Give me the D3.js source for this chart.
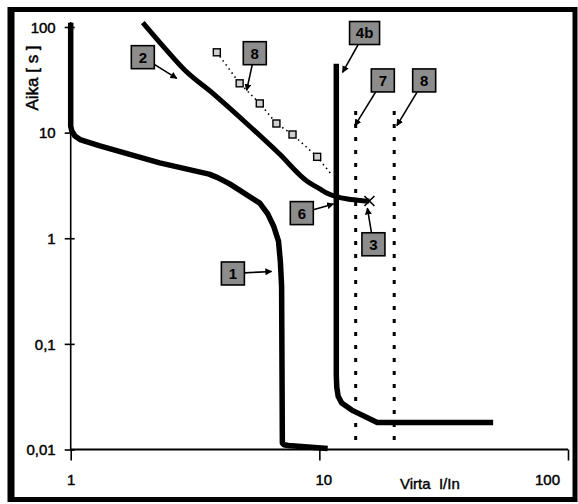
<!DOCTYPE html>
<html><head><meta charset="utf-8">
<script src="https://cdn.jsdelivr.net/npm/d3@7"></script>
<style>
html,body{margin:0;padding:0;background:#fff;}
text{font-family:"Liberation Sans",Arial,sans-serif;}
</style></head>
<body><svg id="c" width="578" height="504"></svg>
<script>
// ---- data ----
const xTicks = [1, 10, 100];
const yTicks = [0.01, 0.1, 1, 10, 100];
const yTickLabels = ["0,01", "0,1", "1", "10", "100"];
const xTitle = "Virta  I/In";
const yTitle = "Aika [ s ]";

// curve 1
const c1x = [1, 1, 1.01, 1.04, 1.09, 1.31, 2.28, 3.6, 3.9, 4.36, 5.76, 6.2, 6.55, 6.85, 6.97, 7.05, 7.1, 7.2, 7.5, 10.8];
const c1y = [110, 11.5, 10.4, 9.3, 8.6, 7.5, 5.17, 4.05, 3.75, 3.27, 2.15, 1.7, 1.3, 0.94, 0.6, 0.35, 0.0115, 0.0111, 0.0109, 0.0102];
// curve 2
const c2x = [1.95, 2.39, 2.88, 3.73, 5.1, 6.9, 8.9, 10.0, 10.7, 11.7, 13.0, 14.9, 15.9];
const c2y = [110, 63, 38.9, 23.5, 12.2, 6.3, 3.49, 2.95, 2.68, 2.48, 2.35, 2.27, 2.25];
// curve 4b
const c4x = [11.7, 11.7, 11.75, 11.9, 12.3, 13.5, 17.1, 50];
const c4y = [45, 0.05, 0.039, 0.032, 0.0275, 0.0236, 0.018, 0.018];
// dotted verticals 7 and 8
const vLinesX = [14, 20];
const vLinesTop = 16;
// square-marker series
const sqx = [3.87, 4.78, 5.76, 6.72, 7.8, 9.8];
const sqy = [57.6, 29.3, 18.9, 12.2, 9.6, 5.9];
const sqEnd = [11.3, 3.9];
// cross marker (3)
const crossPt = [15.9, 2.25];
// annotation labels: text, box centre (x,y), arrow head (x,y)
const annText = ["1", "2", "8", "4b", "7", "8", "6", "3"];
const annBoxX = [4.49, 1.95, 5.5, 15.2, 18.0, 26.4, 8.5, 16.5];
const annBoxY = [0.464, 51.8, 56.5, 87.7, 31.2, 31.2, 1.73, 0.877];
const annHeadX = [6.43, 2.67, 5.1, 12.4, 13.9, 20.5, 11.4, 15.6];
const annHeadY = [0.485, 32.6, 25.1, 37.2, 11.65, 11.65, 2.11, 1.93];

// ---- drawing ----
const svg = d3.select("#c");
const x = d3.scaleLog().domain([1, 100]).range([70.7, 568]);
const y = d3.scaleLog().domain([0.01, 100]).range([449.5, 27]);

// frame
svg.append("rect").attr("x", 11.5).attr("y", 9.5).attr("width", 563.5).attr("height", 490)
  .attr("fill", "none").attr("stroke", "#000").attr("stroke-width", 5);
svg.append("line").attr("x1", 11).attr("x2", 11).attr("y1", 7).attr("y2", 502)
  .attr("stroke", "#000").attr("stroke-width", 7);

// axes
const gy = svg.append("g").attr("transform", `translate(${x(1)},0)`)
  .call(d3.axisLeft(y).tickValues(yTicks).tickFormat((d, i) => yTickLabels[i]).tickSize(6).tickPadding(9));
gy.select(".domain").attr("d", `M0,${y(0.01)}V22`).attr("stroke-width", 1.6);
gy.selectAll(".tick line").attr("x1", 4).attr("stroke-width", 1.6);
gy.selectAll(".tick text").attr("font-size", 15).attr("fill", "#000").attr("dy", "0.35em")
  .attr("stroke", "#000").attr("stroke-width", 0.45);

const gx = svg.append("g").attr("transform", `translate(0,${y(0.01)})`)
  .call(d3.axisBottom(x).tickValues(xTicks).tickFormat(d3.format("d")).tickSize(11).tickPadding(14));
gx.select(".domain").attr("d", `M${x(1)},0H${x(100)}`).attr("stroke-width", 1.8);
gx.selectAll(".tick line").attr("stroke-width", 1.6);
gx.selectAll(".tick text").attr("font-size", 15).attr("fill", "#000")
  .attr("stroke", "#000").attr("stroke-width", 0.45)
  .attr("dx", d => d === 100 ? -21 : d === 10 ? 4 : 0);

svg.append("text").attr("x", 400).attr("y", 489).attr("font-size", 15)
  .attr("stroke", "#000").attr("stroke-width", 0.4)
  .style("white-space", "pre").text(xTitle);
svg.append("text").attr("transform", "translate(38,78) rotate(-90)").attr("text-anchor", "middle")
  .attr("font-size", 17).attr("stroke", "#000").attr("stroke-width", 0.5).text(yTitle);

// curves
const line = d3.line().x(d => x(d[0])).y(d => y(d[1]));
const smooth = d3.line().x(d => x(d[0])).y(d => y(d[1])).curve(d3.curveMonotoneX);
const zip = (a, b) => a.map((v, i) => [v, b[i]]);
[[c1x, c1y, 5.5, line], [c2x, c2y, 5, smooth], [c4x, c4y, 5.5, line]].forEach(([a, b, w, gen]) => {
  svg.append("path").attr("d", gen(zip(a, b))).attr("fill", "none").attr("stroke", "#000")
    .attr("stroke-width", w).attr("stroke-linejoin", "round");
});

// dotted verticals
vLinesX.forEach(v => {
  svg.append("line").attr("x1", x(v)).attr("x2", x(v)).attr("y1", y(vLinesTop)).attr("y2", y(0.01))
    .attr("stroke", "#000").attr("stroke-width", 3).attr("stroke-dasharray", "4,9");
});

// square series
const sqPts = zip(sqx, sqy).concat([sqEnd]);
svg.append("path").attr("d", line(sqPts))
  .attr("fill", "none").attr("stroke", "#000").attr("stroke-width", 1.6).attr("stroke-dasharray", "1.5,3.5");
svg.selectAll("rect.sq").data(zip(sqx, sqy)).enter().append("rect").attr("class", "sq")
  .attr("x", d => x(d[0]) - 3.5).attr("y", d => y(d[1]) - 3.5).attr("width", 7).attr("height", 7)
  .attr("fill", "#d0d0d0").attr("stroke", "#000").attr("stroke-width", 1.4);

// cross
const cx = x(crossPt[0]), cy = y(crossPt[1]);
svg.append("path").attr("d", `M${cx-5},${cy-5}L${cx+5},${cy+5}M${cx-5},${cy+5}L${cx+5},${cy-5}`)
  .attr("stroke", "#000").attr("stroke-width", 1.6);

// arrow marker
svg.append("defs").append("marker").attr("id", "ah").attr("viewBox", "0 0 10 10")
  .attr("refX", 9).attr("refY", 5).attr("markerWidth", 7).attr("markerHeight", 7)
  .attr("markerUnits", "userSpaceOnUse").attr("orient", "auto")
  .append("path").attr("d", "M0,0L10,5L0,10z").attr("fill", "#000");

annText.forEach((t, i) => {
  const bx = x(annBoxX[i]), by = y(annBoxY[i]);
  const hx = x(annHeadX[i]), hy = y(annHeadY[i]);
  const w = t.length > 1 ? 30 : 23, h = 23;
  const dx = hx - bx, dy = hy - by;
  const s = Math.min((w / 2) / Math.abs(dx || 1e-9), (h / 2) / Math.abs(dy || 1e-9));
  const tx = bx + dx * s, ty = by + dy * s;
  svg.append("line").attr("x1", tx).attr("y1", ty).attr("x2", hx).attr("y2", hy)
    .attr("stroke", "#000").attr("stroke-width", 1.6).attr("marker-end", "url(#ah)");
  svg.append("rect").attr("x", bx - w / 2).attr("y", by - h / 2).attr("width", w).attr("height", h)
    .attr("fill", "#8c8c8c").attr("stroke", "#000").attr("stroke-width", 1.6);
  svg.append("text").attr("x", bx).attr("y", by).attr("dy", "0.36em").attr("text-anchor", "middle")
    .attr("font-size", 15).attr("font-weight", "bold").attr("fill", "#000").text(t);
});
</script></body></html>
